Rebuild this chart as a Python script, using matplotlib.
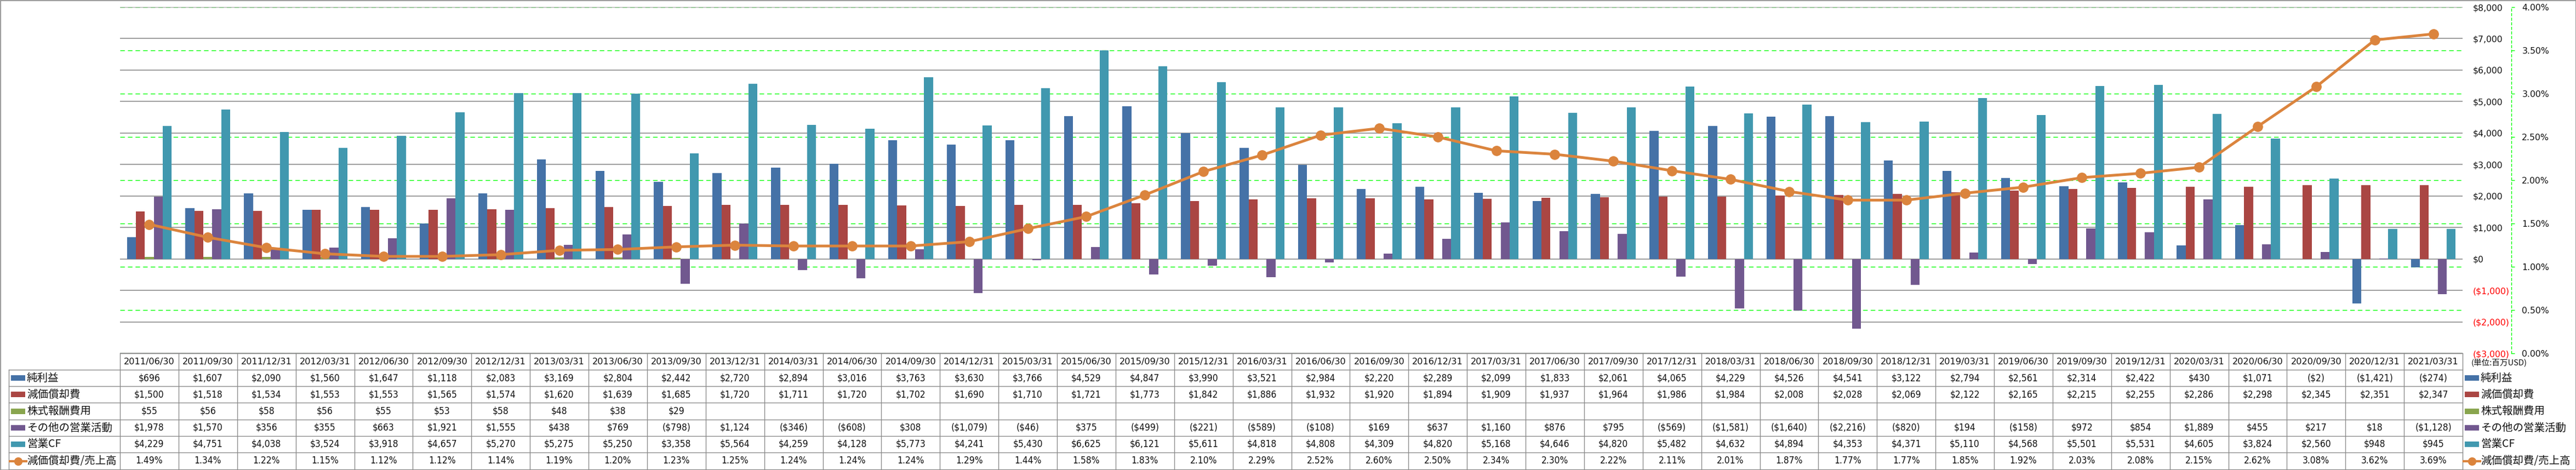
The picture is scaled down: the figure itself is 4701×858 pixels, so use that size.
import numpy as np
import matplotlib
matplotlib.use('Agg')
import matplotlib.pyplot as plt
import matplotlib.transforms as mtransforms
from matplotlib.patches import Rectangle
from matplotlib.lines import Line2D

# ---------------- data ----------------
dates = ['2011/06/30', '2011/09/30', '2011/12/31', '2012/03/31', '2012/06/30', '2012/09/30',
         '2012/12/31', '2013/03/31', '2013/06/30', '2013/09/30', '2013/12/31', '2014/03/31',
         '2014/06/30', '2014/09/30', '2014/12/31', '2015/03/31', '2015/06/30', '2015/09/30',
         '2015/12/31', '2016/03/31', '2016/06/30', '2016/09/30', '2016/12/31', '2017/03/31',
         '2017/06/30', '2017/09/30', '2017/12/31', '2018/03/31', '2018/06/30', '2018/09/30',
         '2018/12/31', '2019/03/31', '2019/06/30', '2019/09/30', '2019/12/31', '2020/03/31',
         '2020/06/30', '2020/09/30', '2020/12/31', '2021/03/31']
net_income = [696, 1607, 2090, 1560, 1647, 1118, 2083, 3169, 2804, 2442, 2720, 2894, 3016, 3763,
              3630, 3766, 4529, 4847, 3990, 3521, 2984, 2220, 2289, 2099, 1833, 2061, 4065, 4229,
              4526, 4541, 3122, 2794, 2561, 2314, 2422, 430, 1071, -2, -1421, -274]
depreciation = [1500, 1518, 1534, 1553, 1553, 1565, 1574, 1620, 1639, 1685, 1720, 1711, 1720, 1702,
                1690, 1710, 1721, 1773, 1842, 1886, 1932, 1920, 1894, 1909, 1937, 1964, 1986, 1984,
                2008, 2028, 2069, 2122, 2165, 2215, 2255, 2286, 2298, 2345, 2351, 2347]
stock_comp = [55, 56, 58, 56, 55, 53, 58, 48, 38, 29] + [np.nan] * 30
other_ops = [1978, 1570, 356, 355, 663, 1921, 1555, 438, 769, -798, 1124, -346, -608, 308, -1079,
             -46, 375, -499, -221, -589, -108, 169, 637, 1160, 876, 795, -569, -1581, -1640, -2216,
             -820, 194, -158, 972, 854, 1889, 455, 217, 18, -1128]
operating_cf = [4229, 4751, 4038, 3524, 3918, 4657, 5270, 5275, 5250, 3358, 5564, 4259, 4128, 5773,
                4241, 5430, 6625, 6121, 5611, 4818, 4808, 4309, 4820, 5168, 4646, 4820, 5482, 4632,
                4894, 4353, 4371, 5110, 4568, 5501, 5531, 4605, 3824, 2560, 948, 945]
dep_ratio = [1.49, 1.34, 1.22, 1.15, 1.12, 1.12, 1.14, 1.19, 1.20, 1.23, 1.25, 1.24, 1.24, 1.24,
             1.29, 1.44, 1.58, 1.83, 2.10, 2.29, 2.52, 2.60, 2.50, 2.34, 2.30, 2.22, 2.11, 2.01,
             1.87, 1.77, 1.77, 1.85, 1.92, 2.03, 2.08, 2.15, 2.62, 3.08, 3.62, 3.69]

series_names = ['純利益', '減価償却費', '株式報酬費用', 'その他の営業活動', '営業CF']
ratio_name = '減価償却費/売上高'
unit_label = '(単位:百万USD)'
left_ticks = list(range(-3000, 8001, 1000))
right_ticks = [0, 0.5, 1.0, 1.5, 2.0, 2.5, 3.0, 3.5, 4.0]

colors = ['#4572A7', '#AA4643', '#89A54E', '#71588F', '#4198AF']
line_color = '#DB843D'
grid_gray = '#8C8C8C'
green = '#00FF00'

CJK = ['Noto Sans CJK JP', 'DejaVu Sans']

# ---------------- layout ----------------
W, H, DPI = 4701, 858, 100
fig = plt.figure(figsize=(W / DPI, H / DPI), dpi=DPI)
fig.patch.set_facecolor('white')


def fx(px):
    return px / W


def fy(py):
    return 1 - py / H


AX_L, AX_R, AX_T, AX_B = 219, 4494, 13, 645
rect = [fx(AX_L), fy(AX_B), fx(AX_R) - fx(AX_L), fy(AX_T) - fy(AX_B)]

n = len(dates)
x = np.arange(n)

# green dashed grid (secondary scale) at the very back
axg = fig.add_axes(rect, zorder=0)
axg.set_xlim(-0.5, n - 0.5)
axg.set_ylim(0, 4)
axg.set_yticks(right_ticks)
axg.set_xticks([])
axg.tick_params(axis='y', left=False, labelleft=False)
axg.grid(axis='y', color=green, lw=1.0, ls=(0, (6, 4)))
for s in axg.spines.values():
    s.set_visible(False)

# primary axes with bars
ax = fig.add_axes(rect, zorder=1)
ax.patch.set_visible(False)
ax2 = ax.twinx()
ax2.set_zorder(2)
ax2.patch.set_visible(False)

ax.set_xlim(-0.5, n - 0.5)
ax.set_ylim(-3000, 8000)
bw = 0.153
all_series = [net_income, depreciation, stock_comp, other_ops, operating_cf]
for k, (vals, col) in enumerate(zip(all_series, colors)):
    v = np.array(vals, dtype=float)
    m = np.isfinite(v)
    ax.bar(x[m] + (k - 2) * bw, v[m], bw, color=col, linewidth=0, zorder=3)

ax.set_yticks(left_ticks)
ax.set_yticklabels([f"${t:,.0f}" if t >= 0 else f"(${-t:,.0f})" for t in left_ticks])
ax.yaxis.tick_right()
ax.tick_params(axis='y', length=0, pad=13.5, labelsize=11.3, labelright=True, labelleft=False)
for t, tick in zip(left_ticks, ax.yaxis.get_major_ticks()):
    tick.label2.set_color('#FF0000' if t < 0 else '#111111')
ax.grid(axis='y', color=grid_gray, lw=1.2)
ax.set_axisbelow(True)
ax.tick_params(axis='x', bottom=False, labelbottom=False)
for s in ax.spines.values():
    s.set_visible(False)

# secondary axis with ratio line
ax2.set_xlim(-0.5, n - 0.5)
ax2.set_ylim(0, 4)
ax2.plot(x, dep_ratio, color=line_color, lw=3.6, marker='o', ms=12.5,
         markerfacecolor=line_color, markeredgecolor=line_color, zorder=5)
ax2.set_yticks(right_ticks)
ax2.set_yticklabels([f"{t:.2f}%" for t in right_ticks])
ax2.tick_params(axis='y', direction='out', length=4, width=1, color=green,
                pad=10, labelsize=11.3, labelcolor='#111111')
for name, s in ax2.spines.items():
    s.set_visible(name == 'right')
ax2.spines['right'].set_position(('outward', 64))
ax2.spines['right'].set_color(green)
ax2.spines['right'].set_linestyle((0, (3, 3)))
ax2.spines['right'].set_linewidth(1.0)

# ---------------- data table ----------------
trans = mtransforms.blended_transform_factory(ax.transData, fig.transFigure)
line_kw = dict(color='#8A8A8A', lw=1.0)
HEAD_T = 645
row_edges = [675, 705, 735, 766, 796, 826, 857]
TAB_L = 16

# header row lines
fig.add_artist(Line2D([-0.5, n - 0.5], [fy(HEAD_T), fy(HEAD_T)], transform=trans, **line_kw))
for ry in row_edges:
    fig.add_artist(Line2D([fx(TAB_L), fx(AX_R)], [fy(ry), fy(ry)], transform=fig.transFigure, **line_kw))
fig.add_artist(Line2D([fx(TAB_L), fx(TAB_L)], [fy(row_edges[0]), fy(row_edges[-1])],
                      transform=fig.transFigure, **line_kw))
for i in range(n + 1):
    fig.add_artist(Line2D([i - 0.5, i - 0.5], [fy(HEAD_T), fy(row_edges[-1])], transform=trans, **line_kw))

# dates
yc_head = fy((HEAD_T + row_edges[0]) / 2)
for i, d in enumerate(dates):
    fig.text(x[i], yc_head, d, transform=trans, ha='center', va='center',
             fontsize=11.6, family='DejaVu Sans', color='#111111')


def money(v):
    if not np.isfinite(v):
        return ''
    return f"${v:,.0f}" if v >= 0 else f"(${-v:,.0f})"


rows_text = [[money(v) for v in s] for s in all_series] + [[f"{v:.2f}%" for v in dep_ratio]]
row_names = series_names + [ratio_name]
for r, texts in enumerate(rows_text):
    yc = fy((row_edges[r] + row_edges[r + 1]) / 2)
    for i, t in enumerate(texts):
        if t:
            fig.text(x[i], yc, t, transform=trans, ha='center', va='center', fontsize=12.5,
                     family='DejaVu Sans', fontstretch='condensed', color='#111111')


def legend_symbol(r, x0, yc):
    if r < len(colors):
        fig.add_artist(Rectangle((fx(x0), yc - 5 / H), 26 / W, 10 / H, transform=fig.transFigure,
                                 facecolor=colors[r], edgecolor='none'))
    else:
        fig.add_artist(Line2D([fx(x0 - 2), fx(x0 + 28)], [yc, yc], transform=fig.transFigure,
                              color=line_color, lw=3, marker=None))
        fig.add_artist(Line2D([fx(x0 + 13)], [yc], transform=fig.transFigure, color=line_color,
                              marker='o', ms=10, lw=0))


for r, name in enumerate(row_names):
    yc = fy((row_edges[r] + row_edges[r + 1]) / 2)
    # left table labels
    legend_symbol(r, 20, yc)
    fig.text(fx(49), yc, name, ha='left', va='center', fontsize=14, family=CJK, color='#111111')
    # right-side legend
    legend_symbol(r, 4498, yc)
    fig.text(fx(4527), yc, name, ha='left', va='center', fontsize=14, family=CJK, color='#111111')

fig.text(fx(4510), fy(663), unit_label, ha='left', va='center', fontsize=10.5, family=CJK,
         color='#111111')

# outer border
fig.add_artist(Rectangle((0.5 / W, 0.5 / H), 1 - 1 / W, 1 - 1 / H, transform=fig.transFigure,
                         fill=False, edgecolor='#8A8A8A', lw=1.2))

fig.savefig('out.png', dpi=DPI, facecolor='white')
